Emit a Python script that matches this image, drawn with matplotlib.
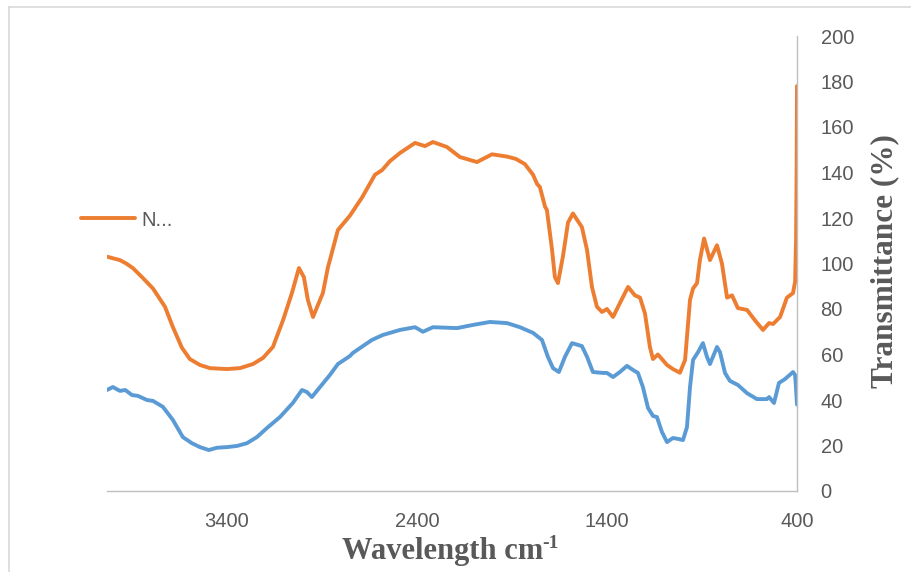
import matplotlib
matplotlib.use("Agg")
import matplotlib.pyplot as plt
from matplotlib.lines import Line2D

# orange series (wavenumber, transmittance)
wn_orange = [4031, 4000, 3963, 3930, 3895, 3842, 3789, 3726, 3684, 3637, 3595, 3542, 3489,
             3400, 3332, 3263, 3210, 3158, 3105, 3058, 3021, 2995, 2974, 2947, 2910, 2895,
             2868, 2858, 2816, 2753, 2689, 2621, 2584, 2542, 2489, 2410, 2358, 2316, 2242,
             2174, 2084, 2005, 1926, 1880, 1832, 1789, 1768, 1753, 1726, 1716, 1689, 1674,
             1658, 1632, 1605, 1579, 1532, 1505, 1479, 1453, 1426, 1400, 1368, 1332, 1289,
             1253, 1226, 1200, 1174, 1158, 1132, 1084, 1053, 1016, 989, 963, 947, 926, 911,
             889, 858, 821, 795, 768, 742, 711, 663, 621, 579, 547, 526, 489, 453, 421, 410,
             405, 402, 400]
t_orange = [103, 102.3, 101.5, 100, 98, 93.6, 89, 81, 72, 63, 58, 55.4, 54,
            53.6, 54, 55.8, 58.5, 63.3, 75, 87, 98, 94, 84, 76.5, 84, 87,
            98.5, 101.5, 114.7, 121, 129, 139, 141, 145, 148.6, 153, 151.6, 153.4, 151.2,
            146.8, 144.6, 148, 147, 146, 143.7, 139, 135, 133.6, 125, 123.5, 106, 94,
            91.4, 103, 118, 122, 116, 106, 89.7, 81, 78.7, 80, 76.5, 82.6, 89.7,
            86, 85, 78, 63.3, 58, 60, 55.4, 53.6, 52, 57.6, 84, 89, 91.4, 101.5,
            111, 101.5, 108, 100, 85, 86, 80.4, 79.6, 75, 70.8, 73.8, 73.4, 76.5, 85, 87, 92,
            110, 140, 178]

# blue series
wn_blue = [4031, 4000, 3963, 3935, 3900, 3868, 3821, 3789, 3737, 3684, 3632, 3584, 3542,
           3495, 3453, 3400, 3347, 3295, 3242, 3189, 3121, 3053, 3005, 2979, 2953, 2910,
           2858, 2816, 2753, 2737, 2637, 2579, 2489, 2410, 2368, 2316, 2189, 2105, 2016,
           1926, 1858, 1789, 1742, 1711, 1684, 1653, 1621, 1584, 1532, 1505, 1474, 1421,
           1400, 1368, 1332, 1295, 1263, 1237, 1211, 1184, 1158, 1137, 1111, 1084, 1053,
           1026, 1000, 979, 963, 947, 921, 895, 874, 858, 821, 805, 779, 753, 711, 663,
           611, 558, 547, 521, 495, 463, 421, 410, 405, 400]
t_blue = [44.4, 45.7, 44, 44.4, 42.2, 41.8, 40, 39.6, 37, 31.2, 23.7, 21, 19.3,
          18, 19, 19.3, 19.8, 21, 23.7, 27.7, 32.5, 38.7, 44.4, 43.5, 41.3, 45.7,
          51, 55.8, 59.3, 60.7, 66.4, 68.6, 70.8, 72, 70, 72, 71.6, 73, 74.3,
          73.8, 72, 69.5, 66.4, 59, 54, 52.3, 59, 65, 63.7, 59, 52.3, 51.9,
          51.9, 50.1, 52.3, 55, 53.2, 51.9, 45.7, 36.5, 33, 32.5, 26, 21.5, 23.3,
          22.9, 22.4, 28.1, 45.7, 57.6, 61, 65, 59, 55.8, 63.3, 61, 51.9, 48.4, 46.6, 43,
          40.4, 40.4, 41.3, 38.7, 47.5, 49.2, 52.3, 51, 45, 38]

x_ticks = [3400, 2400, 1400, 400]
y_ticks = list(range(0, 201, 20))

grey = "#595959"
fig = plt.figure(figsize=(9.12, 5.72), dpi=100)
ax = fig.add_axes([107 / 912, 1 - 491 / 572, 690 / 912, 455 / 572])

ax.plot(wn_blue, t_blue, color="#5B9BD5", lw=2.8, solid_joinstyle="round", solid_capstyle="round")
line_o, = ax.plot(wn_orange, t_orange, color="#ED7D31", lw=2.8, solid_joinstyle="round",
                  solid_capstyle="round")

ax.set_xlim(4031, 400)
ax.set_ylim(0, 200)
ax.set_xticks(x_ticks)
ax.set_yticks(y_ticks)
ax.yaxis.tick_right()
ax.tick_params(axis="both", length=0, labelsize=14.5, labelcolor=grey)
ax.tick_params(axis="y", pad=17)
ax.tick_params(axis="x", pad=15)
for lab in ax.get_xticklabels() + ax.get_yticklabels():
    lab.set_fontfamily("Liberation Sans")

for s in ["left", "top"]:
    ax.spines[s].set_visible(False)
for s in ["bottom", "right"]:
    ax.spines[s].set_color("#BFBFBF")
    ax.spines[s].set_linewidth(1.0)

# x axis title with a small raised "-1"
xt = fig.text(443 / 912, 1 - 552 / 572, "Wavelength cm", ha="center", va="center",
              fontsize=22, fontweight="bold", family="Liberation Serif", color=grey)
ax.annotate("-1", xy=(1.0, 1.0), xycoords=xt, xytext=(-1, 2), textcoords="offset points",
            ha="left", va="top", fontsize=14, fontweight="bold", family="Liberation Serif",
            color=grey, annotation_clip=False)
fig.text(885 / 912, 1 - 261 / 572, "Transmittance (%)", ha="center", va="center", rotation=90,
         fontsize=22.5, fontweight="bold", family="Liberation Serif", color=grey)

leg = fig.legend([line_o], ["N..."], loc="center left", bbox_to_anchor=(81 / 912, 1 - 220 / 572),
                 frameon=False, borderpad=0, borderaxespad=0, handlelength=2.7,
                 handletextpad=0.3, prop={"family": "Liberation Sans", "size": 14.5})
for t in leg.get_texts():
    t.set_color(grey)

# chart area border (left and top edges visible)
fig.add_artist(Line2D([9.5 / 912, 9.5 / 912], [0, 1 - 7 / 572], transform=fig.transFigure,
                      color="#D9D9D9", lw=1.2))
fig.add_artist(Line2D([9.5 / 912, 1], [1 - 7 / 572, 1 - 7 / 572], transform=fig.transFigure,
                      color="#D9D9D9", lw=1.2))

fig.savefig("out.png", dpi=100)
